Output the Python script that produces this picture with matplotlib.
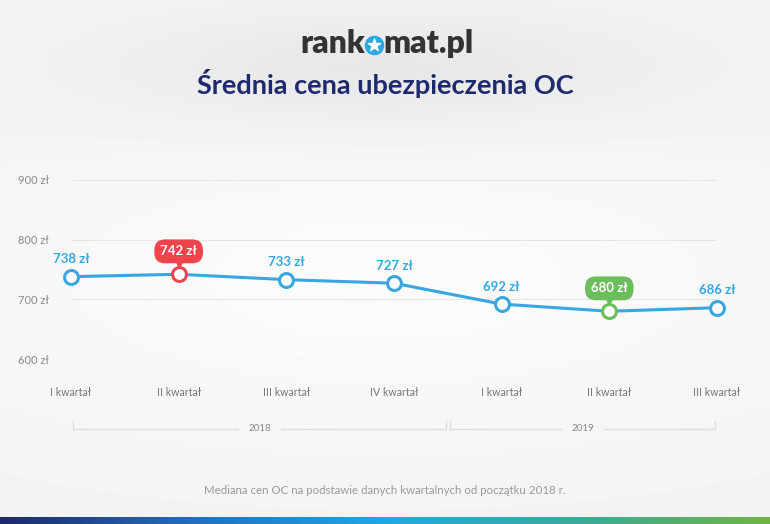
import numpy as np
import matplotlib.pyplot as plt
from matplotlib.colors import LinearSegmentedColormap
from matplotlib.transforms import offset_copy

# dane
quarters = ["I kwartał", "II kwartał", "III kwartał", "IV kwartał",
            "I kwartał", "II kwartał", "III kwartał"]
prices = [738, 742, 733, 727, 692, 680, 686]
years = ["2018", "2019"]
year_idx = [(0, 3), (4, 6)]
y_ticks = [600, 700, 800, 900]
highlight = {1: "#f0444c", 5: "#6cbd5b"}

BLUE = "#3aa6e0"
NAVY = "#1f2a6e"
W, H = 770, 524
plt.rcParams["font.family"] = ["Lato", "DejaVu Sans"]

fig = plt.figure(figsize=(W / 100, H / 100), dpi=100)

# tlo: szare cieniowanie pod naglowkiem, jasniejszy srodek
bg = fig.add_axes([0, 0, 1, 1])
bg.set_xlim(0, W)
bg.set_ylim(H, 0)
bg.axis("off")
yy, xx = np.mgrid[0:H, 0:W]
shade = (0.955
         - 0.05 * np.exp(-((xx - 385) / 280) ** 2 - ((yy - 70) / 60) ** 2)
         + 0.03 * np.exp(-((xx - 385) / 430) ** 2 - ((yy - 280) / 140) ** 2))
bg.imshow(shade, cmap="gray", vmin=0, vmax=1, extent=(0, W, H, 0), aspect="auto")

# pasek na dole
bar_cmap = LinearSegmentedColormap.from_list(
    "bar", ["#1d2a6b", "#2270bc", "#1ea9e1", "#3aaa9c", "#6db543"])
bg.imshow(np.linspace(0, 1, 300)[None, :], cmap=bar_cmap,
          extent=(0, W, H, H - 7), aspect="auto")
bg.set_xlim(0, W)
bg.set_ylim(H, 0)

# logo
bg.text(365, 53, "rank", ha="right", va="baseline", fontsize=23,
        fontweight="heavy", color="#333333")
bg.text(383, 53, "mat.pl", ha="left", va="baseline", fontsize=23,
        fontweight="heavy", color="#333333")
bg.scatter([374], [44.5], s=170, color="#2aa8e1", zorder=3)
bg.scatter([374], [44.5], s=85, marker="*", color="white", zorder=4)

bg.text(W / 2, 83, "Średnia cena ubezpieczenia OC", ha="center", va="center",
        fontsize=19.5, fontweight="bold", color=NAVY)
bg.text(W / 2, 491, "Mediana cen OC na podstawie danych kwartalnych od początku 2018 r.",
        ha="center", va="center", fontsize=8.3, color="#9a9a9a")

# wykres
ax = fig.add_axes([71 / W, 1 - 359 / H, (717 - 71) / W, (359 - 180) / H])
ax.set_facecolor("none")
x = np.arange(len(prices))
ax.set_xlim(0, len(prices) - 1)
ax.set_ylim(600, 900)
for s in ax.spines.values():
    s.set_visible(False)
ax.set_yticks(y_ticks)
ax.set_yticklabels([f"{v} zł" for v in y_ticks])
ax.set_xticks(x)
ax.set_xticklabels(quarters)
ax.yaxis.grid(True, color="#e6e6e6", lw=0.8)
ax.tick_params(axis="y", length=0, pad=16, labelsize=8, labelcolor="#8a8a8a")
ax.tick_params(axis="x", length=0, pad=20, labelsize=7.7, labelcolor="#777777")

ax.plot(x, prices, color=BLUE, lw=2.2, zorder=3, clip_on=False)
for i, p in enumerate(prices):
    c = highlight.get(i, BLUE)
    ax.plot(i, p, marker="o", ms=10, mfc="white", mec=c, mew=2.2,
            zorder=4, clip_on=False)
    if i in highlight:
        ax.annotate(f"{p} zł", (i, p), xytext=(0, 16.5), textcoords="offset points",
                    ha="center", va="center", fontsize=9.5, fontweight="bold",
                    color="white", zorder=5,
                    bbox=dict(boxstyle="round,pad=0.45,rounding_size=0.8",
                              fc=c, ec="none"))
        ax.plot(i, p, marker="v", ms=6, color=c, mec="none",
                transform=offset_copy(ax.transData, fig=fig, x=0, y=9, units="dots"),
                zorder=5, clip_on=False)
    else:
        ax.annotate(f"{p} zł", (i, p), xytext=(0, 12.5), textcoords="offset points",
                    ha="center", va="center", fontsize=9.5, fontweight="bold",
                    color=BLUE, zorder=5)

# klamry lat
xt = ax.get_xaxis_transform()
last = len(prices) - 1
gap = 0.2
for yr, (a, b) in zip(years, year_idx):
    left = max(a - 0.5, 0) + 0.02
    right = min(b + 0.5, last) - 0.02
    mid = (left + right) / 2
    ax.plot([left, left, mid - gap], [-0.346, -0.391, -0.391],
            color="#dddddd", lw=1, transform=xt, clip_on=False)
    ax.plot([mid + gap, right, right], [-0.391, -0.391, -0.346],
            color="#dddddd", lw=1, transform=xt, clip_on=False)
    ax.text(mid, -0.391, yr, transform=xt, ha="center", va="center",
            fontsize=7, color="#888888")

fig.savefig("out.png", dpi=100)
